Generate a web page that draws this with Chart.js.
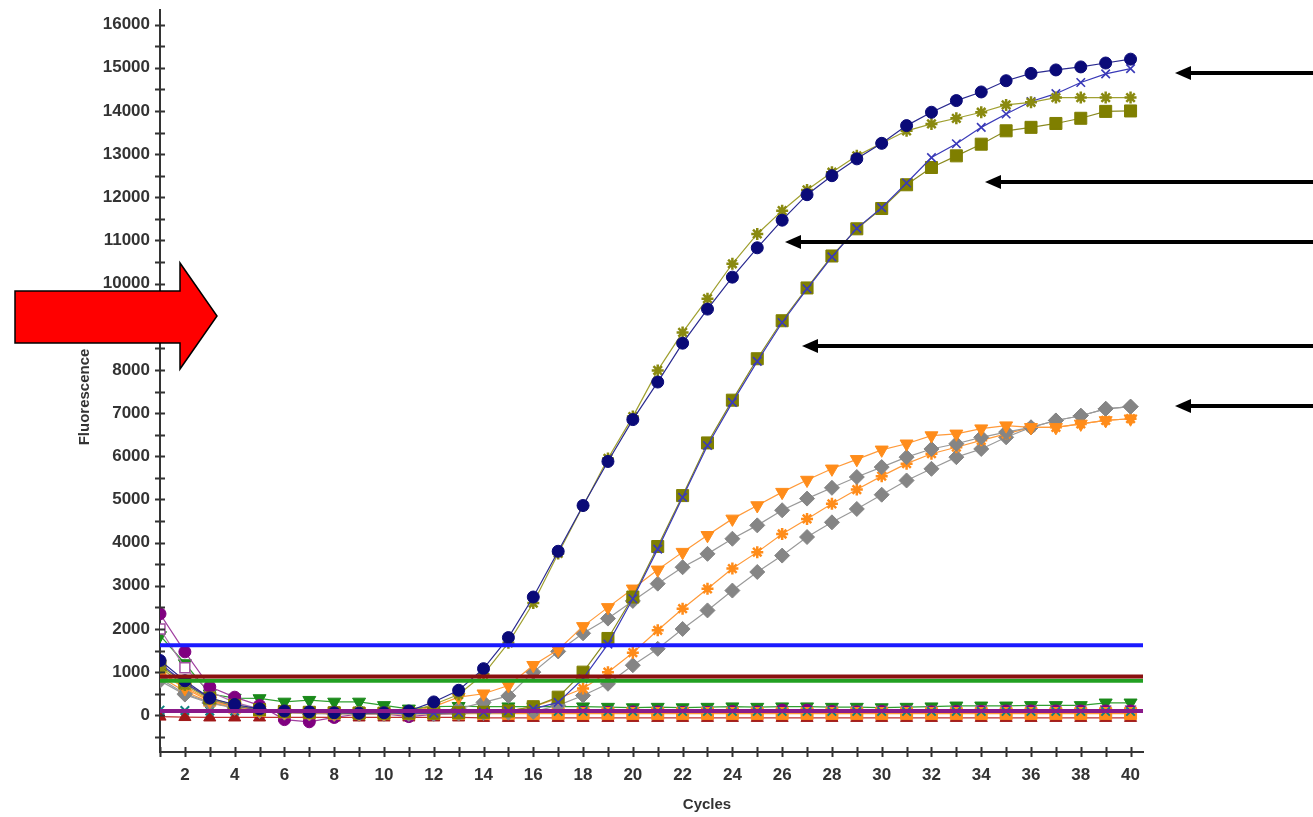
<!DOCTYPE html>
<html>
<head>
<meta charset="utf-8">
<script src="https://cdn.jsdelivr.net/npm/chart.js@4.4.1/dist/chart.umd.min.js"></script>
<style>
  html, body { margin: 0; padding: 0; background: #ffffff; }
  #wrap { width: 1313px; height: 817px; }
</style>
</head>
<body>
<div id="wrap"><canvas id="c" width="1313" height="817"></canvas></div>
<script>
// ---------- data ----------
const cycles = [1,2,3,4,5,6,7,8,9,10,11,12,13,14,15,16,17,18,19,20,21,22,23,24,25,26,27,28,29,30,31,32,33,34,35,36,37,38,39,40];

// amplifying wells
const navyCircles   = [1270,800,400,250,150,100,80,60,50,60,100,310,580,1080,1800,2740,3800,4860,5880,6850,7720,8620,9410,10150,10830,11470,12060,12500,12890,13250,13660,13970,14240,14440,14700,14870,14950,15020,15110,15200];
const oliveStars    = [1100,700,380,230,140,100,80,60,50,50,80,250,480,950,1680,2600,3750,4850,5950,6920,7990,8870,9650,10460,11150,11690,12170,12580,12960,13250,13540,13700,13830,13970,14140,14200,14310,14310,14310,14310];
const oliveSquares  = [1150,750,400,230,130,90,70,60,50,50,50,50,60,70,100,200,420,1000,1780,2740,3910,5090,6310,7300,8260,9140,9900,10640,11270,11740,12290,12690,12960,13230,13540,13620,13710,13830,13990,14000];
const blueCrosses   = [1200,750,380,220,130,90,70,60,50,50,50,50,60,70,100,150,300,850,1650,2700,3850,5050,6250,7250,8200,9100,9880,10620,11280,11760,12330,12920,13240,13620,13930,14220,14400,14660,14860,14980];
const orangeTriDown = [1000,620,330,200,120,80,60,50,50,50,80,200,420,500,690,1160,1520,2060,2500,2930,3370,3780,4170,4550,4860,5170,5450,5710,5930,6150,6290,6480,6520,6640,6710,6670,6670,6750,6830,6870];
const grayUpper     = [850,500,300,180,100,70,50,40,40,40,50,80,150,300,450,1000,1480,1900,2240,2650,3050,3430,3740,4090,4400,4750,5020,5270,5520,5750,5980,6170,6290,6440,6560,6670,6830,6940,7100,7150];
const orangeStars   = [900,550,300,180,100,70,50,40,40,40,40,40,50,60,100,200,390,620,1000,1450,1970,2470,2930,3400,3780,4200,4550,4900,5230,5540,5830,6060,6210,6370,6520,6670,6670,6750,6830,6870];
const grayLower     = [800,480,280,170,100,60,40,30,30,30,30,30,40,50,60,80,230,460,730,1160,1540,2000,2430,2890,3320,3700,4130,4470,4780,5110,5440,5710,5980,6170,6440,6670,6830,6940,7100,7150];

// non-amplifying wells
const purpleCircles = [2350,1470,660,420,230,-100,-150,-50,30,30,-30,20,40,60,60,60,70,70,70,80,80,70,70,90,80,120,120,90,80,90,80,80,90,90,100,100,100,100,100,100];
const greenTriDown  = [1850,1200,500,400,390,310,350,310,310,230,150,200,210,200,200,200,200,200,190,180,190,180,190,200,190,200,200,190,190,180,190,200,220,220,220,230,230,230,290,290];
const purpleSquares = [2000,1100,550,300,150,80,60,50,40,40,40,50,50,50,60,60,60,70,70,70,70,80,80,80,80,90,90,90,90,90,90,90,90,100,100,100,100,100,100,100];
const orangeSquares = [1000,660,350,190,115,80,60,50,50,40,40,40,40,40,40,40,40,40,40,40,40,40,40,40,40,40,40,40,40,40,40,40,40,40,40,40,40,40,40,40];
const tealCrosses   = [120,110,100,100,100,100,100,100,100,90,90,90,90,90,90,90,90,90,90,90,90,90,90,90,90,90,90,90,90,90,90,90,90,90,90,90,90,90,90,90];
const redTriUp      = [-30,-40,-50,-50,-50,-50,-50,-50,-50,-50,-50,-50,-50,-60,-60,-60,-60,-60,-60,-60,-60,-60,-60,-60,-60,-60,-60,-60,-60,-60,-60,-60,-60,-60,-60,-60,-60,-60,-60,-60];

// threshold lines
const thresholdValues = [1620, 900, 800, 100];
const thresholdColors = ['#1a1aff', '#8b1010', '#22a022', '#8a1a8a'];

// axis ticks
const xTickValues = [1,2,3,4,5,6,7,8,9,10,11,12,13,14,15,16,17,18,19,20,21,22,23,24,25,26,27,28,29,30,31,32,33,34,35,36,37,38,39,40];
const yTickValues = [-500,0,500,1000,1500,2000,2500,3000,3500,4000,4500,5000,5500,6000,6500,7000,7500,8000,8500,9000,9500,10000,10500,11000,11500,12000,12500,13000,13500,14000,14500,15000,15500,16000];
const X_MIN = 1, X_MAX = 40.5, Y_MIN = -850, Y_MAX = 16350;

// ---------- build ----------
const pts = arr => cycles.map((c, i) => ({ x: c, y: arr[i] }));

function series(arr, opt) {
  return Object.assign({
    data: pts(arr),
    borderWidth: 1.2,
    pointRadius: 6,
    pointBorderWidth: 1,
    tension: 0,
    fill: false
  }, opt);
}

const datasets = [];
thresholdValues.forEach((v, i) => {
  datasets.push({
    data: [{ x: X_MIN, y: v }, { x: X_MAX, y: v }],
    borderColor: thresholdColors[i],
    borderWidth: 4,
    pointRadius: 0,
    fill: false
  });
});

datasets.push(
  series(navyCircles,   { borderColor: '#2a2a90', pointStyle: 'circle', pointRadius: 6, pointBackgroundColor: '#0a0a78', pointBorderColor: '#0a0a78' }),
  series(oliveStars,    { borderColor: '#a0a030', pointStyle: 'star', pointRadius: 6, pointBorderWidth: 2.5, pointBackgroundColor: '#8a8a10', pointBorderColor: '#8a8a10' }),
  series(blueCrosses,   { borderColor: '#3a3ab8', pointStyle: 'crossRot', pointRadius: 6, pointBorderWidth: 1.6, pointBackgroundColor: '#3a3ab8', pointBorderColor: '#3a3ab8' }),
  series(oliveSquares,  { borderColor: '#8a8a20', pointStyle: 'rect', pointRadius: 8.5, pointBackgroundColor: '#7f7f00', pointBorderColor: '#7f7f00' }),
  series(orangeTriDown, { borderColor: '#ff9a3a', pointStyle: 'triangle', pointRotation: 180, pointRadius: 7.5, pointBackgroundColor: '#ff8c1a', pointBorderColor: '#ff8c1a' }),
  series(grayUpper,     { borderColor: '#9a9a9a', pointStyle: 'rectRot', pointRadius: 7.5, pointBackgroundColor: '#858585', pointBorderColor: '#858585' }),
  series(orangeStars,   { borderColor: '#ff9a3a', pointStyle: 'star', pointRadius: 6, pointBorderWidth: 2.5, pointBackgroundColor: '#ff8c1a', pointBorderColor: '#ff8c1a' }),
  series(grayLower,     { borderColor: '#9a9a9a', pointStyle: 'rectRot', pointRadius: 7.5, pointBackgroundColor: '#858585', pointBorderColor: '#858585' }),
  series(tealCrosses,   { borderColor: '#10a0a0', pointStyle: 'crossRot', pointRadius: 6, pointBorderWidth: 2, pointBackgroundColor: '#108080', pointBorderColor: '#108080' }),
  series(orangeSquares, { borderColor: '#ff9a3a', pointStyle: 'rect', pointRadius: 8.5, pointBackgroundColor: '#ff8c1a', pointBorderColor: '#ff8c1a' }),
  series(purpleCircles, { borderColor: '#a040a0', pointStyle: 'circle', pointRadius: 6, pointBackgroundColor: '#800080', pointBorderColor: '#800080' }),
  series(purpleSquares, { borderColor: '#b070b0', pointStyle: 'rect', pointRadius: 7, pointBackgroundColor: '#ffffff', pointBorderColor: '#a050a0', pointBorderWidth: 1.5 }),
  series(greenTriDown,  { borderColor: '#30a030', pointStyle: 'triangle', pointRotation: 180, pointRadius: 7.5, pointBackgroundColor: '#1a8a1a', pointBorderColor: '#1a8a1a' }),
  series(redTriUp,      { borderColor: '#c03030', pointStyle: 'triangle', pointRadius: 7, pointBackgroundColor: '#a01818', pointBorderColor: '#a01818' })
);

// ---------- plugins (ticks crossing the axes, titles, annotation arrows) ----------
const decor = {
  id: 'decor',
  afterDraw(chart) {
    const ctx = chart.ctx;
    const xs = chart.scales.x, ys = chart.scales.y;
    ctx.save();
    // crossing tick marks
    ctx.strokeStyle = '#333333';
    ctx.lineWidth = 2;
    ctx.beginPath();
    ys.ticks.forEach(t => {
      const y = Math.round(ys.getPixelForValue(t.value)) + 0.5;
      ctx.moveTo(xs.left - 5, y); ctx.lineTo(xs.left + 5, y);
    });
    xs.ticks.forEach(t => {
      const x = Math.round(xs.getPixelForValue(t.value)) + 0.5;
      ctx.moveTo(x, ys.bottom - 5); ctx.lineTo(x, ys.bottom + 5);
    });
    ctx.stroke();

    // axis titles
    ctx.fillStyle = '#333333';
    ctx.font = 'bold 15px "Liberation Sans", Arial, sans-serif';
    ctx.textAlign = 'center';
    ctx.textBaseline = 'middle';
    ctx.fillText('Cycles', 707, 805);
    ctx.save();
    ctx.translate(85, 397);
    ctx.rotate(-Math.PI / 2);
    ctx.fillText('Fluorescence', 0, 0);
    ctx.restore();

    // black pointer arrows
    const blackArrows = [[1175, 73], [985, 182], [785, 242], [802, 346], [1175, 406]];
    ctx.fillStyle = '#000000';
    ctx.strokeStyle = '#000000';
    ctx.lineWidth = 4;
    blackArrows.forEach(([tx, y]) => {
      ctx.beginPath();
      ctx.moveTo(1313, y); ctx.lineTo(tx + 12, y);
      ctx.stroke();
      ctx.beginPath();
      ctx.moveTo(tx, y); ctx.lineTo(tx + 16, y - 7); ctx.lineTo(tx + 16, y + 7); ctx.closePath();
      ctx.fill();
    });

    // red block arrow
    ctx.beginPath();
    ctx.moveTo(15, 291); ctx.lineTo(180, 291); ctx.lineTo(180, 263);
    ctx.lineTo(217, 316); ctx.lineTo(180, 369); ctx.lineTo(180, 343);
    ctx.lineTo(15, 343); ctx.closePath();
    ctx.fillStyle = '#ff0000';
    ctx.fill();
    ctx.lineWidth = 1.5;
    ctx.strokeStyle = '#000000';
    ctx.stroke();
    ctx.restore();
  }
};

const tickFont = { family: '"Liberation Sans", Arial, sans-serif', weight: 'bold', size: 17 };

new Chart(document.getElementById('c'), {
  type: 'line',
  data: { datasets },
  options: {
    responsive: false,
    animation: false,
    devicePixelRatio: 1,
    layout: { padding: { left: 0, right: 170, top: 8, bottom: 0 } },
    plugins: { legend: { display: false }, tooltip: { enabled: false } },
    scales: {
      x: {
        type: 'linear',
        min: X_MIN, max: X_MAX,
        grid: { display: false, drawTicks: false },
        border: { display: true, color: '#333333', width: 2 },
        afterBuildTicks: s => { s.ticks = xTickValues.map(v => ({ value: v })); },
        afterFit: s => { s.height = 65; s.paddingLeft = 0; s.paddingRight = 0; },
        ticks: {
          autoSkip: false, maxRotation: 0, padding: 13, color: '#333333', font: tickFont,
          callback: v => (v % 2 === 0 ? String(v) : '')
        }
      },
      y: {
        type: 'linear',
        min: Y_MIN, max: Y_MAX,
        grid: { display: false, drawTicks: false },
        border: { display: true, color: '#333333', width: 2 },
        afterBuildTicks: s => { s.ticks = yTickValues.map(v => ({ value: v })); },
        afterFit: s => { s.width = 160; s.paddingTop = 0; s.paddingBottom = 0; },
        ticks: {
          autoSkip: false, padding: 10, color: '#333333', font: tickFont,
          callback: v => (v % 1000 === 0 ? String(v) : '')
        }
      }
    }
  },
  plugins: [decor]
});
</script>
</body>
</html>
